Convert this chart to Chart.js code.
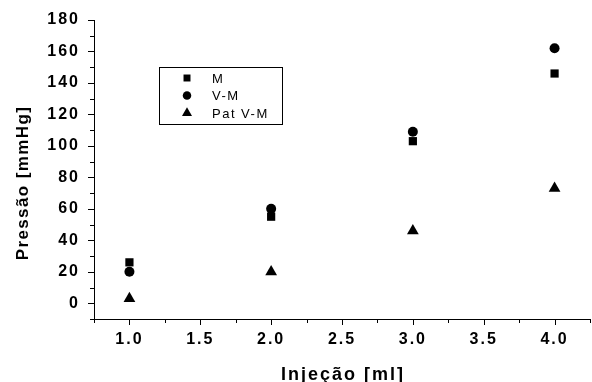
<!DOCTYPE html>
<html lang="pt">
<head>
    <meta charset="UTF-8">
    <title>Pressão x Injeção</title>
    <script src="https://cdn.jsdelivr.net/npm/chart.js@4.4.1/dist/chart.umd.min.js"></script>
    <style>
        html, body { margin: 0; padding: 0; background: #fff; }
        #wrap { width: 592px; height: 382px; position: relative; }
    </style>
</head>
<body>
    <div id="wrap"><canvas id="chart"></canvas></div>

    <script>
        // data
        const injection = [1.0, 2.0, 3.0, 4.0];
        const seriesM = [26, 55, 103, 146];
        const seriesVM = [20, 60, 109, 162];
        const seriesPatVM = [3, 20, 46, 73];

        const xTicks = [1.0, 1.5, 2.0, 2.5, 3.0, 3.5, 4.0];
        const yTicks = [0, 20, 40, 60, 80, 100, 120, 140, 160, 180];
        const xMinorStep = 0.25;
        const yMinorStep = 10;

        const FONT = "'Liberation Sans', Arial, sans-serif";

        function toPoints(ys) {
            return injection.map((x, i) => ({ x: x, y: ys[i] }));
        }

        // keeps the spaced-out lettering of the original
        const spacing = {
            id: 'spacing',
            beforeUpdate(chart) { chart.ctx.letterSpacing = '2px'; },
            beforeDraw(chart) { chart.ctx.letterSpacing = '2px'; }
        };

        // ticks (major + minor), axis titles and the boxed legend
        const decor = {
            id: 'decor',
            afterDraw(chart) {
                const ctx = chart.ctx;
                const xs = chart.scales.x, ys = chart.scales.y;
                const area = chart.chartArea;
                ctx.save();
                ctx.strokeStyle = '#000';
                ctx.lineWidth = 1;

                // x ticks
                for (let v = xs.min; v <= xs.max + 1e-9; v += xMinorStep) {
                    const px = Math.round(xs.getPixelForValue(v)) + 0.5;
                    const major = xTicks.some(t => Math.abs(t - v) < 1e-6);
                    ctx.beginPath();
                    ctx.moveTo(px, area.bottom);
                    ctx.lineTo(px, area.bottom + (major ? 6 : 4));
                    ctx.stroke();
                }
                // y ticks
                for (let v = ys.min; v <= ys.max + 1e-9; v += yMinorStep) {
                    const py = Math.round(ys.getPixelForValue(v)) + 0.5;
                    const major = yTicks.includes(v);
                    ctx.beginPath();
                    ctx.moveTo(area.left, py);
                    ctx.lineTo(area.left - (major ? 6 : 4), py);
                    ctx.stroke();
                }

                // axis titles
                ctx.fillStyle = '#000';
                ctx.textAlign = 'center';
                ctx.textBaseline = 'alphabetic';
                ctx.font = 'bold 18px ' + FONT;
                ctx.letterSpacing = '2px';
                ctx.fillText('Injeção [ml]', (area.left + area.right) / 2 + 1, 380);

                ctx.save();
                ctx.translate(28, 183);
                ctx.rotate(-Math.PI / 2);
                ctx.font = 'bold 17px ' + FONT;
                ctx.letterSpacing = '1.4px';
                ctx.fillText('Pressão [mmHg]', 0, 0);
                ctx.restore();

                // legend box
                ctx.strokeRect(159.5, 67.5, 123, 57);
                ctx.font = '13px ' + FONT;
                ctx.letterSpacing = '1.5px';
                ctx.textAlign = 'left';
                ctx.textBaseline = 'middle';
                chart.data.datasets.forEach((ds, i) => {
                    const cy = 78 + i * 17.5;
                    Chart.helpers.drawPoint(ctx, {
                        pointStyle: ds.pointStyle,
                        radius: ds.pointRadius * 0.85,
                        borderWidth: 0
                    }, 187, cy);
                    ctx.fillText(ds.label, 212, cy + 1);
                });
                ctx.restore();
            }
        };

        new Chart(document.getElementById('chart'), {
            type: 'scatter',
            data: {
                datasets: [
                    { label: 'M', data: toPoints(seriesM), pointStyle: 'rect', pointRadius: 5.8 },
                    { label: 'V-M', data: toPoints(seriesVM), pointStyle: 'circle', pointRadius: 5 },
                    { label: 'Pat V-M', data: toPoints(seriesPatVM), pointStyle: 'triangle', pointRadius: 6.8 }
                ].map(ds => Object.assign(ds, {
                    backgroundColor: '#000',
                    borderColor: '#000',
                    borderWidth: 0,
                    pointHoverRadius: ds.pointRadius
                }))
            },
            options: {
                responsive: true,
                maintainAspectRatio: false,
                animation: false,
                layout: { autoPadding: false, padding: { top: 20, right: 2, left: 0, bottom: 0 } },
                plugins: {
                    legend: { display: false },
                    tooltip: { enabled: false }
                },
                scales: {
                    x: {
                        type: 'linear',
                        min: 0.75,
                        max: 4.25,
                        afterBuildTicks: s => { s.ticks = xTicks.map(v => ({ value: v })); },
                        afterFit: s => { s.height = 63; },
                        grid: { display: false, drawTicks: true, tickLength: 6 },
                        border: { display: true, color: '#000', width: 1 },
                        ticks: {
                            color: '#000',
                            padding: 5,
                            font: { family: FONT, size: 16, weight: 'bold' },
                            callback: v => Number(v).toFixed(1)
                        }
                    },
                    y: {
                        min: -10,
                        max: 180,
                        afterBuildTicks: s => { s.ticks = yTicks.map(v => ({ value: v })); },
                        afterFit: s => { s.width = 94; },
                        grid: { display: false, drawTicks: true, tickLength: 6 },
                        border: { display: true, color: '#000', width: 1 },
                        ticks: {
                            color: '#000',
                            padding: 8,
                            font: { family: FONT, size: 16, weight: 'bold' }
                        }
                    }
                }
            },
            plugins: [spacing, decor]
        });
    </script>
</body>
</html>
